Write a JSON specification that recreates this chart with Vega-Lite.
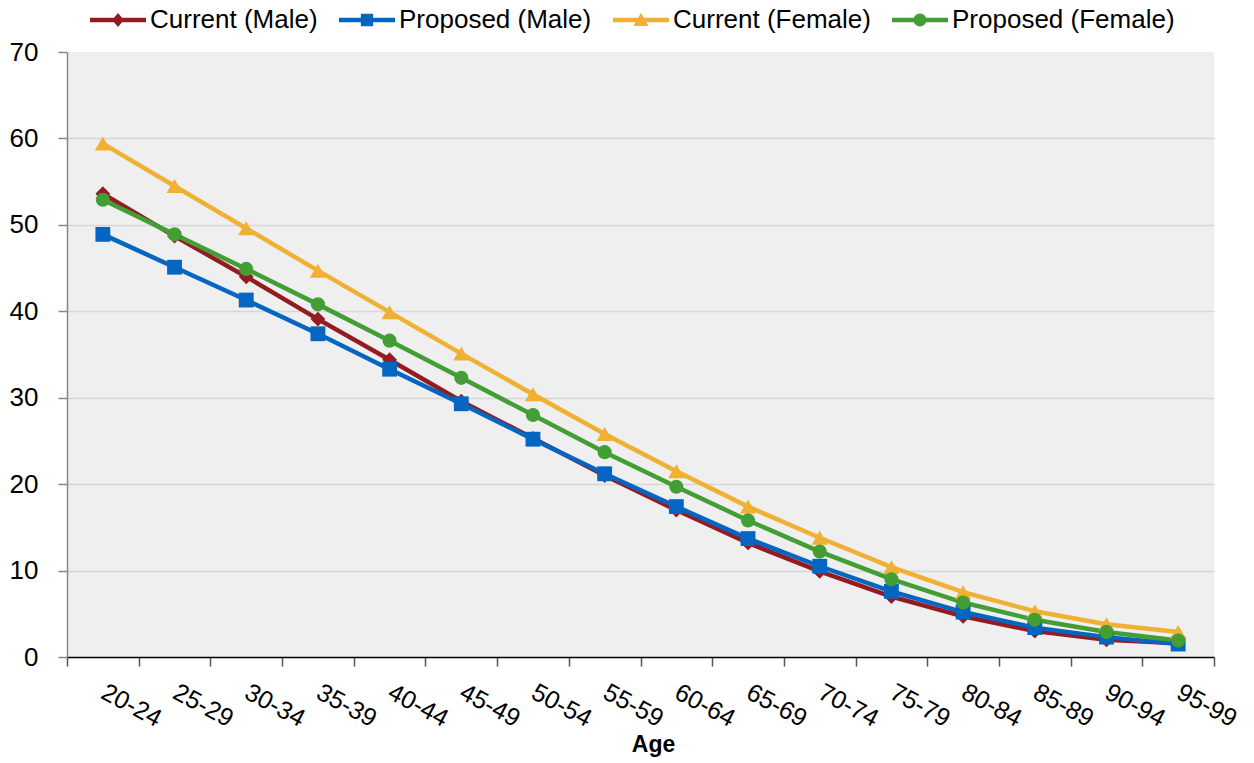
{
  "$schema": "https://vega.github.io/schema/vega-lite/v6.json",
  "autosize": {"type": "none"},
  "padding": {"left": 67, "top": 52, "right": 40, "bottom": 106},
  "width": 1147,
  "height": 605,
  "background": "white",
  "config": {
    "font": "Liberation Sans",
    "view": {"fill": "#EFEFEF", "stroke": null}
  },
  "data": {
    "values": [
      {"age": "20-24", "series": "Current (Male)", "value": 53.6},
      {"age": "25-29", "series": "Current (Male)", "value": 48.7},
      {"age": "30-34", "series": "Current (Male)", "value": 44.0},
      {"age": "35-39", "series": "Current (Male)", "value": 39.1},
      {"age": "40-44", "series": "Current (Male)", "value": 34.4},
      {"age": "45-49", "series": "Current (Male)", "value": 29.6},
      {"age": "50-54", "series": "Current (Male)", "value": 25.3},
      {"age": "55-59", "series": "Current (Male)", "value": 21.0},
      {"age": "60-64", "series": "Current (Male)", "value": 17.0},
      {"age": "65-69", "series": "Current (Male)", "value": 13.2},
      {"age": "70-74", "series": "Current (Male)", "value": 9.9},
      {"age": "75-79", "series": "Current (Male)", "value": 7.0},
      {"age": "80-84", "series": "Current (Male)", "value": 4.7},
      {"age": "85-89", "series": "Current (Male)", "value": 3.0},
      {"age": "90-94", "series": "Current (Male)", "value": 2.0},
      {"age": "95-99", "series": "Current (Male)", "value": 1.6},
      {"age": "20-24", "series": "Proposed (Male)", "value": 48.9},
      {"age": "25-29", "series": "Proposed (Male)", "value": 45.1},
      {"age": "30-34", "series": "Proposed (Male)", "value": 41.3},
      {"age": "35-39", "series": "Proposed (Male)", "value": 37.4},
      {"age": "40-44", "series": "Proposed (Male)", "value": 33.3},
      {"age": "45-49", "series": "Proposed (Male)", "value": 29.3},
      {"age": "50-54", "series": "Proposed (Male)", "value": 25.2},
      {"age": "55-59", "series": "Proposed (Male)", "value": 21.2},
      {"age": "60-64", "series": "Proposed (Male)", "value": 17.4},
      {"age": "65-69", "series": "Proposed (Male)", "value": 13.7},
      {"age": "70-74", "series": "Proposed (Male)", "value": 10.5},
      {"age": "75-79", "series": "Proposed (Male)", "value": 7.6},
      {"age": "80-84", "series": "Proposed (Male)", "value": 5.2},
      {"age": "85-89", "series": "Proposed (Male)", "value": 3.4},
      {"age": "90-94", "series": "Proposed (Male)", "value": 2.3},
      {"age": "95-99", "series": "Proposed (Male)", "value": 1.5},
      {"age": "20-24", "series": "Current (Female)", "value": 59.4},
      {"age": "25-29", "series": "Current (Female)", "value": 54.5},
      {"age": "30-34", "series": "Current (Female)", "value": 49.6},
      {"age": "35-39", "series": "Current (Female)", "value": 44.7},
      {"age": "40-44", "series": "Current (Female)", "value": 39.9},
      {"age": "45-49", "series": "Current (Female)", "value": 35.1},
      {"age": "50-54", "series": "Current (Female)", "value": 30.4},
      {"age": "55-59", "series": "Current (Female)", "value": 25.8},
      {"age": "60-64", "series": "Current (Female)", "value": 21.5},
      {"age": "65-69", "series": "Current (Female)", "value": 17.4},
      {"age": "70-74", "series": "Current (Female)", "value": 13.8},
      {"age": "75-79", "series": "Current (Female)", "value": 10.4},
      {"age": "80-84", "series": "Current (Female)", "value": 7.5},
      {"age": "85-89", "series": "Current (Female)", "value": 5.3},
      {"age": "90-94", "series": "Current (Female)", "value": 3.8},
      {"age": "95-99", "series": "Current (Female)", "value": 2.9},
      {"age": "20-24", "series": "Proposed (Female)", "value": 52.9},
      {"age": "25-29", "series": "Proposed (Female)", "value": 48.9},
      {"age": "30-34", "series": "Proposed (Female)", "value": 44.9},
      {"age": "35-39", "series": "Proposed (Female)", "value": 40.8},
      {"age": "40-44", "series": "Proposed (Female)", "value": 36.6},
      {"age": "45-49", "series": "Proposed (Female)", "value": 32.3},
      {"age": "50-54", "series": "Proposed (Female)", "value": 28.0},
      {"age": "55-59", "series": "Proposed (Female)", "value": 23.7},
      {"age": "60-64", "series": "Proposed (Female)", "value": 19.7},
      {"age": "65-69", "series": "Proposed (Female)", "value": 15.8},
      {"age": "70-74", "series": "Proposed (Female)", "value": 12.2},
      {"age": "75-79", "series": "Proposed (Female)", "value": 9.0},
      {"age": "80-84", "series": "Proposed (Female)", "value": 6.3},
      {"age": "85-89", "series": "Proposed (Female)", "value": 4.3},
      {"age": "90-94", "series": "Proposed (Female)", "value": 2.9},
      {"age": "95-99", "series": "Proposed (Female)", "value": 1.9}
    ]
  },
  "encoding": {
    "x": {
      "field": "age",
      "type": "nominal",
      "sort": null,
      "scale": {"type": "band", "paddingInner": 0, "paddingOuter": 0},
      "axis": {
        "title": "Age",
        "titleFont": "Liberation Sans",
        "titleFontSize": 23,
        "titleFontWeight": "bold",
        "titleColor": "black",
        "titleX": 586,
        "titleY": 76,
        "titleAlign": "center",
        "titleBaseline": "top",
        "tickBand": "extent",
        "tickSize": 9,
        "tickColor": "#555555",
        "tickWidth": 1.5,
        "domainColor": "#000000",
        "domainWidth": 1.5,
        "labelAngle": 28,
        "labelAlign": "left",
        "labelBaseline": "middle",
        "labelPadding": 24,
        "labelFontSize": 25,
        "labelColor": "black",
        "labelOverlap": false,
        "labelFlush": false,
        "grid": false
      }
    },
    "y": {
      "field": "value",
      "type": "quantitative",
      "scale": {"domain": [0, 70], "nice": false, "zero": true},
      "axis": {
        "title": null,
        "values": [0, 10, 20, 30, 40, 50, 60, 70],
        "tickSize": 9,
        "tickColor": "#888888",
        "tickWidth": 1.5,
        "domainColor": "#888888",
        "domainWidth": 1.5,
        "labelFontSize": 26,
        "labelColor": "black",
        "labelPadding": 20,
        "labelFlush": false,
        "grid": true,
        "gridColor": "#D6D6D6",
        "gridWidth": 1.5,
        "gridOpacity": {"condition": {"test": "datum.value === 70 || datum.value === 0", "value": 0}, "value": 1}
      }
    },
    "color": {
      "field": "series",
      "type": "nominal",
      "scale": {
        "domain": ["Current (Male)", "Proposed (Male)", "Current (Female)", "Proposed (Female)"],
        "range": ["#951B22", "#0566C2", "#F0B034", "#439E35"]
      },
      "legend": {
        "title": null,
        "orient": "none",
        "direction": "horizontal",
        "columns": 4,
        "legendX": 23,
        "legendY": -60,
        "symbolSize": 3136,
        "symbolOpacity": 1,
        "symbolStrokeWidth": 0,
        "labelFontSize": 26,
        "labelColor": "black",
        "labelOffset": 4,
        "labelLimit": 0,
        "columnPadding": 21,
        "labelFont": "Liberation Sans",
        "encode": {
          "symbols": {
            "update": {
              "shape": {"signal": "datum.value === 'Current (Male)' ? 'M-1,-0.08L1,-0.08L1,0.08L-1,0.08Z M0,-0.25L0.21,0L0,0.25L-0.21,0Z' : datum.value === 'Proposed (Male)' ? 'M-1,-0.08L1,-0.08L1,0.08L-1,0.08Z M-0.22,-0.22L0.22,-0.22L0.22,0.22L-0.22,0.22Z' : datum.value === 'Current (Female)' ? 'M-1,-0.08L1,-0.08L1,0.08L-1,0.08Z M0,-0.26L0.27,0.21L-0.27,0.21Z' : 'M-1,-0.08L1,-0.08L1,0.08L-1,0.08Z M-0.23,0A0.23,0.23 0 1,1 0.23,0A0.23,0.23 0 1,1 -0.23,0Z'"},
              "fill": {"scale": "color", "field": "value"},
              "strokeWidth": {"value": 0},
              "opacity": {"value": 1},
              "fillOpacity": {"value": 1}
            }
          }
        }
      }
    }
  },
  "layer": [
    {
      "mark": {"type": "line", "strokeWidth": 4.5},
      "encoding": {"detail": {"field": "series"}}
    },
    {
      "transform": [{"filter": {"field": "series", "equal": "Current (Male)"}}],
      "mark": {"type": "point", "filled": true, "opacity": 1, "size": 220, "shape": "diamond"}
    },
    {
      "transform": [{"filter": {"field": "series", "equal": "Proposed (Male)"}}],
      "mark": {"type": "point", "filled": true, "opacity": 1, "size": 220, "shape": "square"}
    },
    {
      "transform": [{"filter": {"field": "series", "equal": "Current (Female)"}}],
      "mark": {"type": "point", "filled": true, "opacity": 1, "size": 260, "shape": "triangle-up"}
    },
    {
      "transform": [{"filter": {"field": "series", "equal": "Proposed (Female)"}}],
      "mark": {"type": "point", "filled": true, "opacity": 1, "size": 200, "shape": "circle"}
    }
  ]
}
